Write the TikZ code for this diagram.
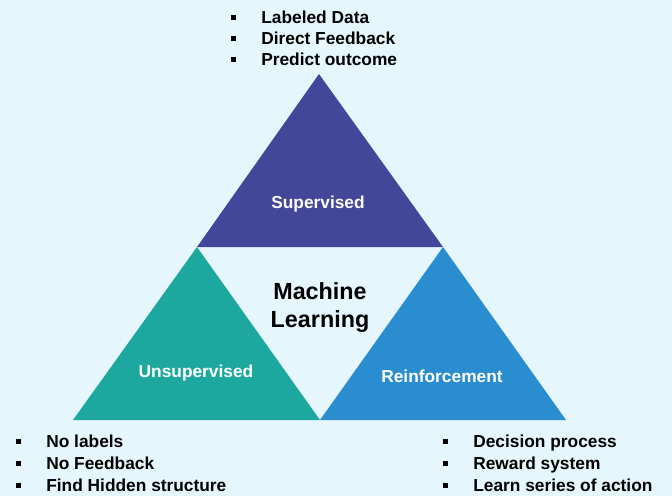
\documentclass[tikz,border=0pt]{standalone}
\usepackage{fontspec}
\setmainfont{Liberation Sans}
\usetikzlibrary{positioning, calc}

\definecolor{bgblue}{HTML}{E6F6FD}
\definecolor{supcol}{HTML}{434799}
\definecolor{unsupcol}{HTML}{1CA89F}
\definecolor{reincol}{HTML}{2A8DCF}

\newcommand{\itm}[1]{\makebox[22.9pt][l]{\rule[2.4pt]{3.8pt}{3.8pt}}#1}

\tikzset{
  item/.style={anchor=base west, inner sep=0pt, font=\fontsize{13}{16}\selectfont\bfseries, text=black},
  lbl/.style={anchor=base, inner sep=0pt, font=\fontsize{13}{16}\selectfont\bfseries, text=white},
}

\begin{document}
\begin{tikzpicture}[x=0.75pt,y=-0.75pt]
\fill[bgblue] (0,0) rectangle (672,496);
\useasboundingbox (0,0) rectangle (672,496);

\coordinate (apex) at (319,74);
\coordinate (tl) at (197,247);
\coordinate (tr) at (443,247);
\coordinate (bl) at (73,420);
\coordinate (bm) at (320,420);
\coordinate (br) at (566,420);

\fill[supcol] (tl) -- (tr) -- (apex) -- cycle;
\fill[unsupcol] (bl) -- (bm) -- (tl) -- cycle;
\fill[reincol] (bm) -- (br) -- (tr) -- cycle;

\node[lbl] (sup) at (318,208) {Supervised};
\node[lbl] (unsup) at (196,377) {Unsupervised};
\node[lbl] (reinf) at (442,382) {Reinforcement};

\node[anchor=base, inner sep=0pt, align=center, font=\fontsize{17.5}{20.5}\selectfont\bfseries] (ml) at (320,327) {Machine\\Learning};

% supervised list
\node[item] (s1) at (230.5,23) {\itm{Labeled Data}};
\node[item] (s2) at (230.5,44) {\itm{Direct Feedback}};
\node[item] (s3) at (230.5,65) {\itm{Predict outcome}};

% unsupervised list
\node[item] (u1) at (15.5,447) {\itm{No labels}};
\node[item] (u2) at (15.5,469) {\itm{No Feedback}};
\node[item] (u3) at (15.5,491) {\itm{Find Hidden structure}};

% reinforcement list
\node[item] (r1) at (442.5,447) {\itm{Decision process}};
\node[item] (r2) at (442.5,469) {\itm{Reward system}};
\node[item] (r3) at (442.5,491) {\itm{Learn series of action}};
\end{tikzpicture}
\end{document}
